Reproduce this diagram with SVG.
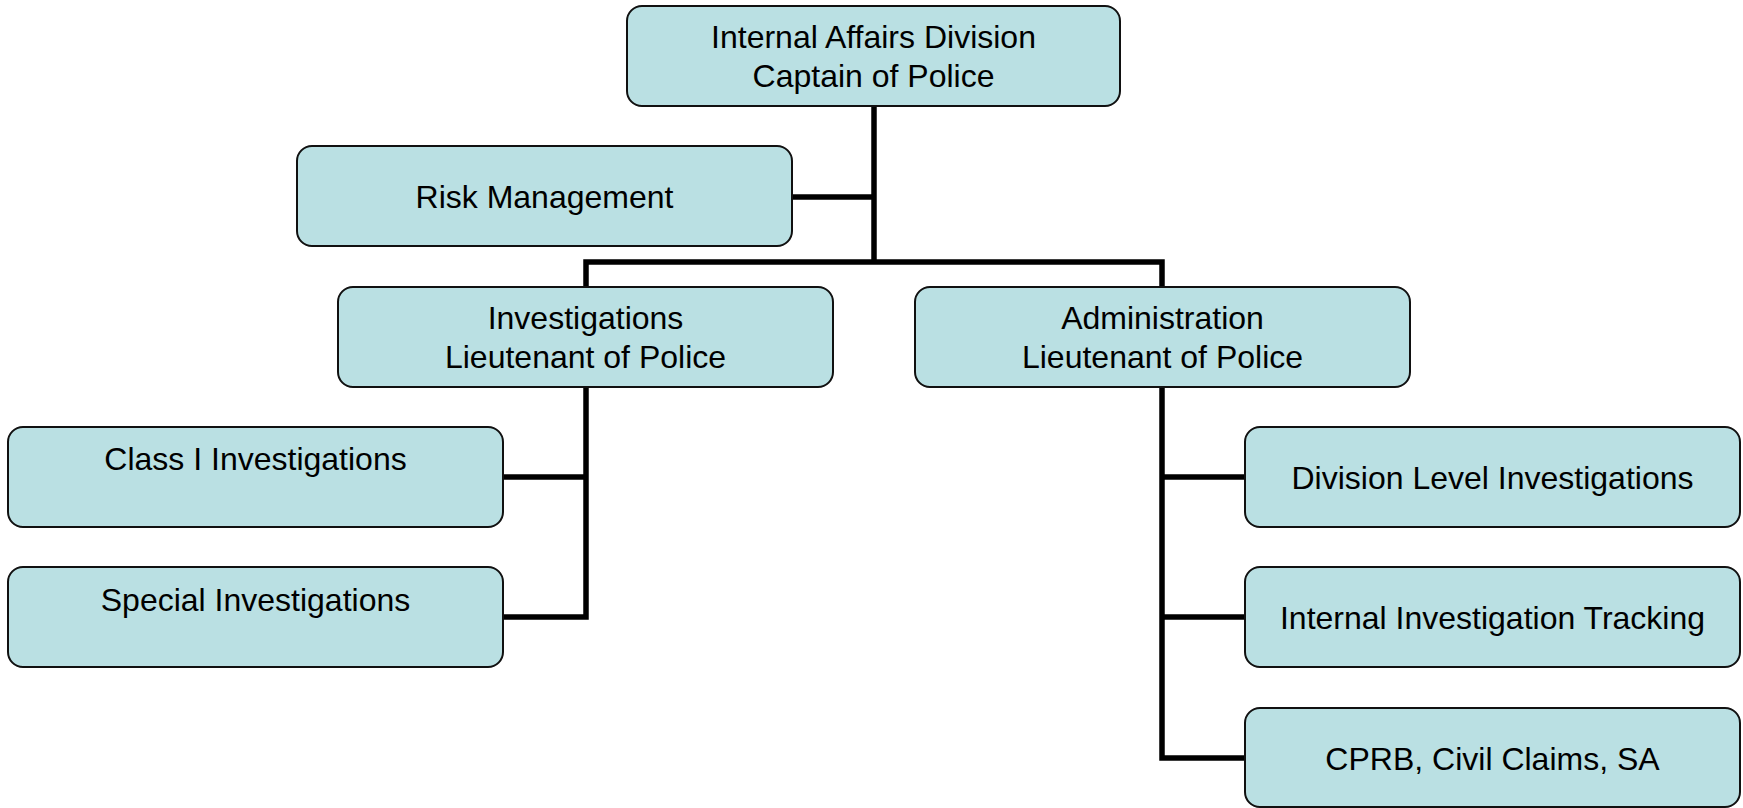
<svg xmlns="http://www.w3.org/2000/svg" width="1743" height="808" viewBox="0 0 1743 808">
<style>
.box{fill:#BAE0E3;stroke:#111;stroke-width:2}
.t{font-family:"Liberation Sans",Arial,sans-serif;font-size:32px;fill:#000;text-anchor:middle}
.c{fill:none;stroke:#000;stroke-width:5.5;stroke-linejoin:miter;stroke-linecap:butt}
</style>
<rect width="1743" height="808" fill="#fff"/>
<g id="connectors">
<polyline class="c" points="874,106 874,262"/>
<polyline class="c" points="792,197 874,197"/>
<polyline class="c" points="586,287 586,262 1162,262 1162,287"/>
<polyline class="c" points="586,387 586,617 503,617"/>
<polyline class="c" points="503,477 586,477"/>
<polyline class="c" points="1162,387 1162,758 1245,758"/>
<polyline class="c" points="1162,477 1245,477"/>
<polyline class="c" points="1162,617 1245,617"/>
</g>
<g id="internal-affairs">
<rect class="box" x="627" y="6" width="493" height="100" rx="15"/>
<text class="t" x="873.5" y="47.5">Internal Affairs Division</text>
<text class="t" x="873.5" y="86.5">Captain of Police</text>
</g>
<g id="risk-management">
<rect class="box" x="297" y="146" width="495" height="100" rx="15"/>
<text class="t" x="544.5" y="207.5">Risk Management</text>
</g>
<g id="investigations">
<rect class="box" x="338" y="287" width="495" height="100" rx="15"/>
<text class="t" x="585.5" y="328.5">Investigations</text>
<text class="t" x="585.5" y="367.5">Lieutenant of Police</text>
</g>
<g id="administration">
<rect class="box" x="915" y="287" width="495" height="100" rx="15"/>
<text class="t" x="1162.5" y="328.5">Administration</text>
<text class="t" x="1162.5" y="367.5">Lieutenant of Police</text>
</g>
<g id="class-i">
<rect class="box" x="8" y="427" width="495" height="100" rx="15"/>
<text class="t" x="255.5" y="470">Class I Investigations</text>
</g>
<g id="special">
<rect class="box" x="8" y="567" width="495" height="100" rx="15"/>
<text class="t" x="255.5" y="610.5">Special Investigations</text>
</g>
<g id="division-level">
<rect class="box" x="1245" y="427" width="495" height="100" rx="15"/>
<text class="t" x="1492.5" y="488.5">Division Level Investigations</text>
</g>
<g id="tracking">
<rect class="box" x="1245" y="567" width="495" height="100" rx="15"/>
<text class="t" x="1492.5" y="628.5">Internal Investigation Tracking</text>
</g>
<g id="cprb">
<rect class="box" x="1245" y="708" width="495" height="99" rx="15"/>
<text class="t" x="1492.5" y="769.5">CPRB, Civil Claims, SA</text>
</g>
</svg>
